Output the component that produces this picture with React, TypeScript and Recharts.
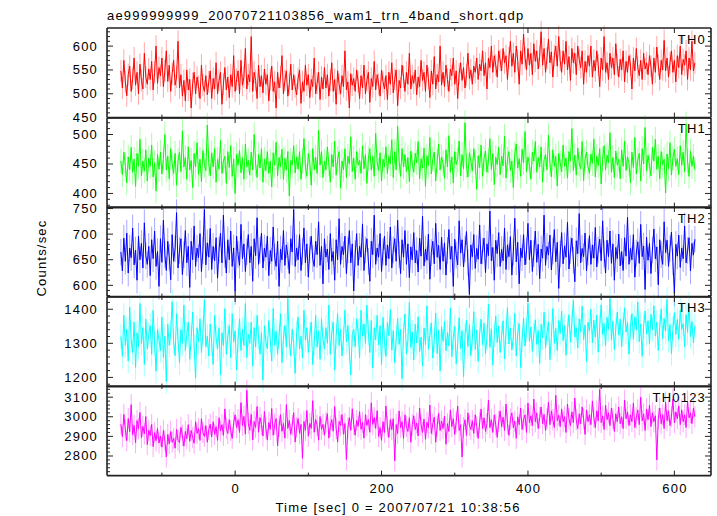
import React from "react";
import { LineChart, Line, XAxis, YAxis, ErrorBar } from "recharts";

const TITLE = "ae999999999_20070721103856_wam1_trn_4band_short.qdp";
const X_TITLE = "Time [sec] 0 = 2007/07/21 10:38:56";
const Y_TITLE = "Counts/sec";

// time grid of the light curve (sec from 2007/07/21 10:38:56)
const T_START = -156;
const T_STEP = 2;

const TH0 = [
  548, 512, 570, 525, 496, 540, 558, 505, 532, 575, 518, 545, 500, 562, 528, 510, 585, 535, 520, 552,
  530, 568, 508, 545, 600, 522, 555, 538, 575, 515, 548, 590, 526, 560, 505, 542, 570, 518, 535, 610,
  512, 540, 495, 528, 485, 550, 508, 530, 470, 522, 545, 500, 535, 515, 490, 560, 518, 505, 538, 498,
  525, 548, 490, 532, 510, 565, 500, 528, 545, 478, 520, 555, 508, 535, 492, 540, 515, 580, 505, 530,
  548, 500, 570, 518, 535, 595, 510, 540, 525, 620, 505, 545, 528, 490, 560, 515, 538, 502, 552, 520,
  540, 485, 530, 558, 505, 525, 470, 545, 512, 535, 580, 500, 528, 548, 495, 520, 562, 508, 540, 515,
  498, 532, 550, 480, 525, 505, 560, 518, 540, 492, 530, 515, 575, 500, 522, 545, 488, 535, 510, 555,
  512, 540, 495, 528, 565, 505, 530, 478, 548, 520, 500, 538, 515, 590, 508, 525, 470, 542, 518, 532,
  505, 550, 525, 490, 538, 512, 560, 500, 528, 545, 482, 532, 515, 568, 508, 540, 520, 495, 550, 525,
  510, 538, 488, 545, 520, 565, 502, 530, 550, 475, 528, 512, 560, 535, 505, 545, 520, 585, 510, 538,
  522, 550, 498, 535, 515, 570, 528, 545, 505, 560, 532, 492, 548, 520, 578, 510, 540, 525, 600, 518,
  545, 515, 560, 530, 505, 552, 538, 575, 520, 548, 490, 542, 565, 528, 555, 512, 540, 585, 532, 550,
  520, 558, 545, 575, 530, 562, 548, 590, 538, 565, 510, 575, 555, 600, 545, 580, 560, 535, 590, 570,
  548, 595, 565, 580, 530, 575, 610, 558, 585, 545, 600, 570, 520, 590, 562, 625, 575, 550, 595, 560,
  585, 540, 605, 568, 590, 552, 578, 630, 560, 595, 545, 575, 615, 565, 588, 535, 580, 600, 558, 620,
  570, 545, 590, 562, 610, 550, 578, 528, 595, 565, 585, 540, 600, 572, 555, 590, 520, 568, 545, 580,
  558, 600, 535, 570, 548, 590, 560, 515, 575, 550, 620, 545, 565, 530, 585, 555, 575, 540, 605, 560,
  535, 572, 550, 590, 525, 568, 545, 580, 560, 510, 575, 548, 595, 555, 538, 570, 530, 585, 552, 565,
  540, 580, 558, 520, 575, 545, 598, 560, 530, 570, 550, 612, 548, 575, 535, 565, 590, 545, 570, 525,
  580, 555, 600, 540, 572, 560, 590, 530, 575, 550, 610, 548, 565,
];

const TH1 = [
  455, 432, 470, 448, 418, 462, 440, 478, 436, 458, 412, 468, 446, 492, 430, 455, 438, 474, 421, 460,
  446, 482, 428, 452, 404, 466, 441, 470, 433, 459, 500, 440, 463, 425, 476, 450, 434, 468, 414, 456,
  470, 437, 506, 445, 461, 424, 479, 440, 456, 410, 468, 445, 486, 432, 458, 420, 473, 448, 439, 516,
  451, 430, 469, 445, 476, 419, 458, 441, 490, 434, 455, 463, 417, 471, 444, 481, 429, 458, 400, 466,
  448, 473, 435, 461, 424, 484, 445, 456, 431, 470, 440, 500, 450, 427, 466, 443, 476, 419, 458, 439,
  471, 434, 455, 411, 469, 448, 487, 430, 461, 445, 475, 424, 459, 440, 471, 396, 456, 448, 481, 435,
  462, 441, 471, 424, 455, 493, 445, 429, 468, 452, 414, 476, 440, 461, 434, 507, 448, 471, 427, 455,
  440, 479, 450, 419, 466, 445, 489, 431, 458, 471, 409, 455, 440, 476, 427, 463, 450, 496, 437, 460,
  424, 471, 448, 456, 434, 481, 442, 466, 417, 459, 476, 440, 463, 429, 502, 452, 439, 469, 421, 458,
  445, 479, 434, 463, 450, 491, 427, 471, 440, 514, 455, 429, 476, 445, 466, 437, 461, 420, 472, 449,
  436, 468, 452, 488, 425, 459, 443, 477, 412, 464, 447, 495, 433, 458, 470, 421, 455, 484, 440, 462,
  451, 426, 474, 445, 498, 436, 462, 418, 471, 449, 457, 489, 430, 466, 442, 520, 447, 428, 469, 455,
  438, 476, 453, 407, 464, 444, 482, 429, 459, 472, 436, 455, 493, 441, 468, 415, 461, 449, 478, 432,
  463, 447, 497, 426, 458, 471, 439, 455, 410, 467, 484, 443, 459, 429, 475, 452, 505, 437, 462, 448,
  424, 470, 455, 488, 436, 461, 445, 479, 419, 457, 466, 440, 499, 451, 428, 474, 446, 463, 413, 468,
  452, 437, 482, 446, 460, 426, 471, 455, 510, 439, 465, 431, 477, 450, 442, 488, 422, 459, 470, 445,
  434, 467, 451, 492, 428, 463, 447, 476, 416, 458, 481, 440, 465, 452, 503, 436, 461, 427, 472, 448,
  458, 425, 474, 446, 489, 439, 462, 451, 418, 470, 444, 495, 433, 457, 468, 421, 476, 450, 512, 438,
  465, 447, 430, 478, 455, 492, 441, 463, 425, 471, 449, 458, 401, 467, 442, 486, 431, 460, 475, 446,
  459, 432, 481, 448, 470, 437, 518, 455, 429, 472, 446, 463, 440,
];

const TH2 = [
  665, 628, 692, 647, 702, 624, 673, 654, 712, 640, 669, 610, 696, 650, 682, 634, 722, 658, 641, 676,
  619, 689, 652, 706, 637, 666, 598, 691, 645, 727, 660, 629, 686, 655, 611, 699, 647, 671, 742, 634,
  668, 691, 621, 660, 707, 644, 676, 596, 686, 650, 716, 637, 673, 654, 701, 627, 668, 748, 640, 683,
  655, 711, 631, 676, 648, 693, 614, 669, 702, 644, 737, 660, 624, 689, 650, 706, 637, 673, 588, 696,
  660, 639, 719, 652, 681, 627, 666, 699, 644, 676, 608, 691, 658, 732, 641, 669, 702, 634, 673, 655,
  696, 619, 668, 647, 714, 655, 637, 686, 598, 671, 650, 707, 639, 679, 658, 623, 691, 665, 748, 637,
  673, 650, 699, 629, 666, 712, 644, 681, 616, 669, 696, 652, 637, 686, 660, 724, 639, 676, 603, 691,
  655, 671, 631, 701, 647, 666, 610, 689, 650, 730, 641, 676, 660, 696, 623, 669, 707, 644, 681, 589,
  662, 701, 639, 676, 655, 720, 629, 669, 691, 647, 608, 686, 660, 737, 641, 673, 655, 701, 627, 666,
  696, 639, 679, 652, 714, 634, 669, 691, 647, 727, 660, 623, 689, 655, 707, 641, 681, 615, 675, 650,
  703, 644, 668, 626, 692, 657, 735, 638, 671, 649, 700, 612, 664, 686, 642, 721, 655, 678, 631, 694,
  647, 683, 620, 668, 709, 651, 676, 598, 690, 659, 640, 726, 663, 689, 636, 671, 705, 645, 582, 679,
  656, 699, 633, 672, 651, 718, 642, 667, 692, 625, 681, 658, 745, 648, 674, 610, 688, 662, 703, 637,
  670, 648, 712, 631, 679, 656, 695, 620, 665, 731, 646, 684, 603, 673, 654, 699, 640, 667, 721, 650,
  688, 627, 662, 706, 645, 680, 613, 671, 653, 737, 639, 676, 659, 698, 630, 667, 709, 646, 684, 594,
  661, 703, 642, 677, 655, 723, 632, 668, 692, 649, 607, 687, 662, 740, 644, 672, 656, 702, 628, 665,
  697, 641, 679, 653, 713, 636, 669, 690, 648, 726, 661, 624, 688, 656, 706, 643, 681, 610, 674, 652,
  700, 638, 666, 629, 693, 657, 733, 641, 672, 650, 699, 616, 663, 685, 643, 719, 656, 677, 592, 694,
  649, 682, 623, 669, 710, 652, 675, 601, 689, 660, 641, 724, 664, 688, 637, 672, 704, 646, 585, 680,
  657, 698, 635, 673, 652, 716, 644, 668, 693, 628, 682, 659, 690,
];

const TH3 = [
  1320, 1262, 1382, 1294, 1341, 1248, 1406, 1310, 1273, 1362, 1229, 1331, 1289, 1417, 1300, 1346, 1238, 1371, 1284, 1326,
  1352, 1268, 1397, 1301, 1218, 1341, 1309, 1279, 1377, 1259, 1321, 1188, 1356, 1294, 1331, 1422, 1305, 1264, 1387, 1310,
  1243, 1341, 1300, 1412, 1279, 1326, 1362, 1253, 1316, 1392, 1289, 1198, 1346, 1304, 1372, 1273, 1331, 1428, 1290, 1321,
  1263, 1357, 1300, 1238, 1382, 1316, 1284, 1346, 1207, 1331, 1294, 1402, 1268, 1321, 1352, 1258, 1387, 1305, 1336, 1222,
  1310, 1372, 1279, 1341, 1294, 1417, 1258, 1326, 1300, 1362, 1233, 1346, 1289, 1382, 1315, 1268, 1331, 1192, 1352, 1305,
  1284, 1367, 1310, 1248, 1402, 1294, 1336, 1268, 1321, 1387, 1243, 1316, 1352, 1289, 1432, 1305, 1263, 1341, 1300, 1212,
  1331, 1377, 1284, 1321, 1258, 1397, 1310, 1346, 1273, 1326, 1362, 1238, 1300, 1382, 1289, 1336, 1253, 1372, 1310, 1284,
  1346, 1300, 1412, 1268, 1331, 1362, 1222, 1321, 1387, 1294, 1341, 1263, 1316, 1397, 1305, 1352, 1279, 1207, 1326, 1341,
  1290, 1372, 1336, 1258, 1397, 1321, 1357, 1300, 1412, 1331, 1273, 1367, 1228, 1346, 1310, 1382, 1295, 1352, 1238, 1376,
  1305, 1262, 1361, 1322, 1399, 1280, 1337, 1244, 1315, 1373, 1297, 1341, 1196, 1328, 1386, 1269, 1309, 1420, 1288, 1333,
  1251, 1356, 1301, 1378, 1276, 1318, 1233, 1345, 1296, 1410, 1283, 1324, 1360, 1257, 1312, 1389, 1270, 1338, 1219, 1349,
  1306, 1365, 1278, 1332, 1292, 1404, 1261, 1319, 1349, 1240, 1298, 1375, 1285, 1337, 1202, 1323, 1368, 1291, 1355, 1264,
  1314, 1393, 1282, 1339, 1247, 1327, 1371, 1296, 1359, 1270, 1318, 1415, 1288, 1343, 1236, 1326, 1380, 1302, 1351, 1273,
  1322, 1366, 1254, 1334, 1405, 1298, 1345, 1281, 1317, 1388, 1263, 1329, 1358, 1229, 1311, 1374, 1292, 1340, 1418, 1306,
  1348, 1276, 1325, 1369, 1297, 1338, 1241, 1356, 1316, 1391, 1287, 1331, 1363, 1252, 1320, 1402, 1300, 1344, 1279, 1367,
  1329, 1395, 1308, 1352, 1265, 1340, 1384, 1303, 1360, 1427, 1319, 1346, 1286, 1372, 1335, 1409, 1311, 1354, 1247, 1362,
  1337, 1400, 1302, 1368, 1318, 1383, 1274, 1349, 1413, 1326, 1358, 1293, 1376, 1341, 1432, 1310, 1365, 1282, 1345, 1392,
  1324, 1371, 1290, 1356, 1404, 1333, 1361, 1268, 1346, 1387, 1312, 1378, 1339, 1421, 1305, 1357, 1262, 1350, 1395, 1328,
  1366, 1298, 1385, 1340, 1410, 1321, 1362, 1279, 1348, 1401, 1314, 1373, 1336, 1429, 1308, 1355, 1270, 1344, 1390, 1326,
  1370, 1312, 1398, 1341, 1358, 1290, 1384, 1332, 1415, 1320, 1364, 1301, 1352,
];

const TH0123 = [
  2962, 2898, 3012, 2934, 2878, 2991, 2924, 3062, 2909, 2956, 2868, 2981, 2939, 3022, 2894, 2951, 2913, 3001, 2858, 2931,
  2904, 2961, 2848, 2919, 2878, 2940, 2866, 2902, 2845, 2930, 2880, 2795, 2910, 2862, 2925, 2870, 2890, 2840, 2935, 2880,
  2868, 2946, 2905, 2850, 2925, 2888, 2960, 2875, 2930, 2895, 2865, 2975, 2915, 2940, 2880, 2990, 2920, 2900, 2955, 2870,
  2935, 2962, 2898, 2975, 2910, 2950, 2880, 2995, 2928, 2960, 2905, 3040, 2940, 2915, 2985, 2930, 2890, 2970, 3010, 2945,
  2985, 2920, 3072, 2956, 3002, 2911, 3135, 2966, 2931, 3012, 2882, 2976, 2946, 3052, 2921, 2996, 2961, 2902, 3027, 2941,
  2881, 2971, 2936, 3042, 2906, 2961, 2991, 2852, 2951, 3011, 2926, 2966, 2891, 3062, 2941, 2981, 2911, 2956, 3021, 2871,
  2946, 2991, 2916, 2961, 2788, 2976, 2931, 3032, 2901, 2966, 2941, 3082, 2921, 2986, 2956, 2881, 3001, 2936, 2961, 2906,
  2971, 3016, 2891, 2951, 2986, 2926, 3052, 2941, 2871, 2976, 2956, 3011, 2911, 2966, 2782, 2941, 2996, 2931, 3041, 2961,
  2906, 2981, 2951, 3026, 2936, 2971, 2891, 3011, 2956, 2986, 2921, 3071, 2961, 2996, 2941, 3031, 2900, 2945, 2880, 2975,
  2920, 3055, 2950, 2895, 2985, 2935, 2990, 2775, 2960, 2915, 3030, 2945, 2975, 2890, 3010, 2950, 2925, 2995, 2870, 2960,
  3005, 2935, 2968, 2902, 3045, 2958, 2920, 2988, 2885, 2972, 2944, 3060, 2915, 2962, 2998, 2870, 2952, 3018, 2930, 2978,
  2940, 3003, 2860, 2965, 2925, 3035, 2950, 2990, 2910, 2975, 3055, 2930, 2960, 2795, 2945, 2985, 2905, 3020, 2955, 2935,
  2980, 2915, 3010, 2950, 2890, 2970, 3040, 2940, 2995, 2925, 2965, 3085, 2945, 2985, 2920, 3010, 2960, 2895, 2975, 3030,
  2950, 2998, 2930, 3065, 2965, 2905, 2988, 3020, 2945, 2978, 2890, 3000, 2960, 3045, 2935, 2985, 3010, 2920, 3070, 2970,
  3005, 2955, 3090, 2975, 3020, 2940, 2995, 3050, 2965, 3012, 2930, 2990, 3075, 2960, 3030, 2985, 2945, 3110, 2980, 3008,
  2950, 3040, 2975, 3000, 2920, 3065, 2990, 2955, 3025, 2970, 3095, 2985, 2940, 3015, 2965, 3050, 2990, 2910, 3035, 2975,
  3010, 2960, 3080, 2995, 2945, 3030, 2980, 3140, 2970, 3005, 2935, 3060, 2985, 3020, 2955, 3045, 2990, 2925, 3015, 2975,
  3050, 2965, 3000, 2940, 3085, 2990, 3025, 2955, 3010, 2975, 3070, 2945, 2995, 3035, 2960, 3100, 2980, 3015, 2930, 3040,
  2985, 3060, 2950, 3020, 2975, 3005, 2780, 2990, 3045, 2965, 3010, 2940, 3075, 2980, 3030, 2955, 3000, 3090, 2970, 3025,
  2990, 3055, 2960, 3035, 2975, 3010, 2945, 3080, 2995, 3020, 2965, 3045, 3000,
];

// 1-sigma errors of each band (counts/sec)
const TH0_ERR = 23;
const TH1_ERR = 21;
const TH2_ERR = 26;
const TH3_ERR = 36;
const TH0123_ERR = 54;

const X_TICKS = [-100, 0, 100, 200, 300, 400, 500, 600];
const X_MAJOR = [0, 200, 400, 600];

const data = TH0.map((v, i) => ({
  t: T_START + i * T_STEP,
  th0: v,
  th1: TH1[i],
  th2: TH2[i],
  th3: TH3[i],
  th0123: TH0123[i],
  e0: TH0_ERR,
  e1: TH1_ERR,
  e2: TH2_ERR,
  e3: TH3_ERR,
  e0123: TH0123_ERR,
}));

function steps(from: number, to: number, step: number) {
  const out: number[] = [];
  for (let v = from; v <= to; v += step) out.push(v);
  return out;
}

const FONT = {
  fontFamily: "'Liberation Sans', Arial, sans-serif",
  fontSize: 13,
  letterSpacing: 1.2,
  fill: "#000",
};

const PLOT_TOP = 28;
const PLOT_BOTTOM = 476;
const PANEL_H = (PLOT_BOTTOM - PLOT_TOP) / 5;
const PAD = 24;
const X_DOMAIN = [-175, 650];
const AXIS_COLOR = "#222";
const AXIS_LINE = { stroke: AXIS_COLOR, strokeWidth: 1.6 };

const panels = [
  { name: "TH0", key: "th0", err: "e0", color: "#ff0000", domain: [450, 638], ticks: steps(460, 630, 10), major: [450, 500, 550, 600] },
  { name: "TH1", key: "th1", err: "e1", color: "#00ff00", domain: [376, 528], ticks: steps(380, 520, 10), major: [400, 450, 500] },
  { name: "TH2", key: "th2", err: "e2", color: "#0000ff", domain: [578, 753], ticks: steps(580, 750, 10), major: [600, 650, 700, 750] },
  { name: "TH3", key: "th3", err: "e3", color: "#00ffff", domain: [1173, 1436], ticks: steps(1180, 1420, 20), major: [1200, 1300, 1400] },
  { name: "TH0123", key: "th0123", err: "e0123", color: "#ff00ff", domain: [2700, 3157], ticks: steps(2720, 3140, 20), major: [2800, 2900, 3000, 3100] },
];

function Panel({ p, index }: { p: (typeof panels)[number]; index: number }) {
  const top = PLOT_TOP + index * PANEL_H;
  const last = index === panels.length - 1;
  const yTicks = Array.from(new Set([...p.ticks, ...p.major])).sort((a, b) => a - b);

  const leftTick = (props: any) => {
    const { x, y, payload } = props;
    const isMajor = p.major.includes(payload.value);
    return (
      <g>
        <line x1={x} x2={x + (isMajor ? 6 : 3)} y1={y} y2={y} stroke={AXIS_COLOR} />
        {isMajor && (
          <text x={x - 9} y={y} dy={4.5} textAnchor="end" {...FONT}>
            {payload.value}
          </text>
        )}
      </g>
    );
  };
  const rightTick = (props: any) => {
    const { x, y, payload } = props;
    const isMajor = p.major.includes(payload.value);
    return <line x1={x} x2={x - (isMajor ? 6 : 3)} y1={y} y2={y} stroke={AXIS_COLOR} />;
  };
  const bottomTick = (props: any) => {
    const { x, y, payload } = props;
    const isMajor = X_MAJOR.includes(payload.value);
    return (
      <g>
        <line x1={x} x2={x} y1={y} y2={y - (isMajor ? 5 : 3)} stroke={AXIS_COLOR} />
        {last && isMajor && (
          <text x={x + 0.6} y={y} dy={17} textAnchor="middle" {...FONT}>
            {payload.value}
          </text>
        )}
      </g>
    );
  };
  const topTick = (props: any) => {
    const { x, y, payload } = props;
    const isMajor = X_MAJOR.includes(payload.value);
    return <line x1={x} x2={x} y1={y} y2={y + (isMajor ? 5 : 3)} stroke={AXIS_COLOR} />;
  };

  return (
    <div style={{ position: "absolute", left: 0, top: top - PAD }}>
      <LineChart
        width={717}
        height={PANEL_H + PAD * 2}
        data={data}
        margin={{ top: PAD - 1, bottom: PAD - 1, left: 0, right: 5 }}
        style={{ overflow: "visible" }}
      >
        <XAxis
          dataKey="t"
          type="number"
          domain={X_DOMAIN}
          allowDataOverflow
          ticks={X_TICKS}
          interval={0}
          height={1}
          tickSize={0}
          tickMargin={0}
          tickLine={false}
          tick={bottomTick}
          axisLine={AXIS_LINE}
        />
        <XAxis
          xAxisId="top"
          orientation="top"
          dataKey="t"
          type="number"
          domain={X_DOMAIN}
          allowDataOverflow
          ticks={X_TICKS}
          interval={0}
          height={1}
          tickSize={0}
          tickMargin={0}
          tickLine={false}
          tick={topTick}
          axisLine={AXIS_LINE}
        />
        <YAxis
          type="number"
          domain={p.domain}
          allowDataOverflow
          ticks={yTicks}
          interval={0}
          width={107}
          tickSize={0}
          tickMargin={0}
          tickLine={false}
          tick={leftTick}
          axisLine={AXIS_LINE}
        />
        <YAxis
          yAxisId="right"
          orientation="right"
          type="number"
          domain={p.domain}
          allowDataOverflow
          ticks={yTicks}
          interval={0}
          width={1}
          tickSize={0}
          tickMargin={0}
          tickLine={false}
          tick={rightTick}
          axisLine={AXIS_LINE}
        />
        <Line
          type="linear"
          dataKey={p.key}
          stroke={p.color}
          strokeWidth={1}
          dot={false}
          isAnimationActive={false}
        >
          <ErrorBar dataKey={p.err} width={0} stroke={p.color} strokeOpacity={0.35} strokeWidth={1} />
        </Line>
      </LineChart>
    </div>
  );
}

export default function App() {
  return (
    <div style={{ position: "absolute", left: 0, top: 0, width: 717, height: 516, background: "#fff" }}>
      {panels.map((p, i) => (
        <Panel key={p.name} p={p} index={i} />
      ))}
      <svg width={717} height={516} style={{ position: "absolute", left: 0, top: 0, pointerEvents: "none" }}>
        <text x={107} y={20} {...FONT}>
          {TITLE}
        </text>
        <text x={398} y={511.5} textAnchor="middle" {...FONT}>
          {X_TITLE}
        </text>
        <text x={46} y={258} textAnchor="middle" transform="rotate(-90 46 258)" {...FONT}>
          {Y_TITLE}
        </text>
        {panels.map((p, i) => (
          <text key={p.name} x={706} y={PLOT_TOP + i * PANEL_H + 15.5} textAnchor="end" {...FONT}>
            {p.name}
          </text>
        ))}
      </svg>
    </div>
  );
}
